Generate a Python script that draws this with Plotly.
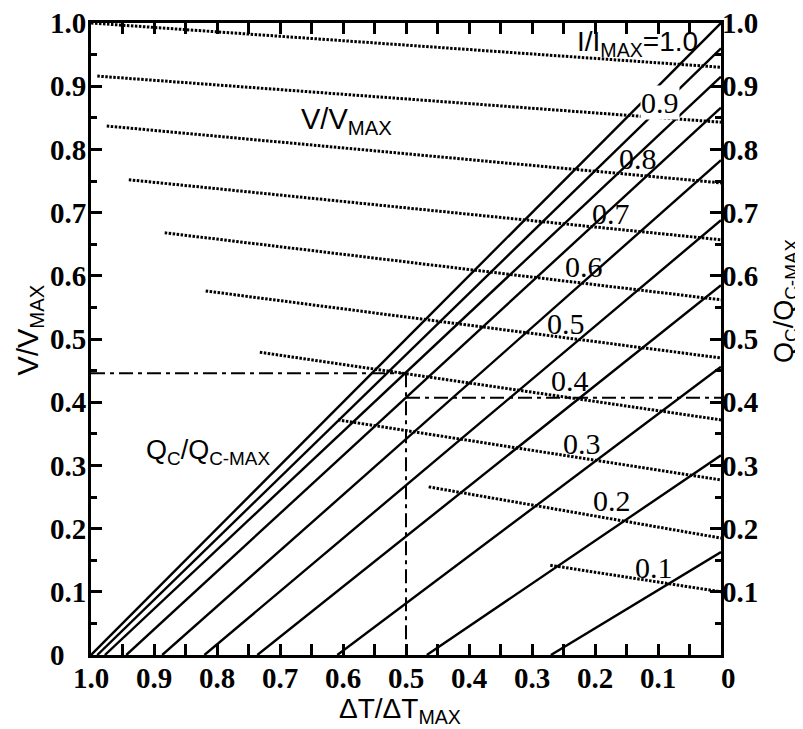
import plotly.graph_objects as go

# ---------------- data ----------------
current = [1.0, 0.9, 0.8, 0.7, 0.6, 0.5, 0.4, 0.3, 0.2, 0.1]           # I/Imax
# Qc/Qc-max straight lines: dT/dTmax where Qc = 0, and Qc/Qc-max at dT = 0
qc_zero_dt = [1.0, 0.99, 0.978, 0.944, 0.887, 0.82, 0.736, 0.609, 0.467, 0.27]
qc_at_dt0 = [1.0, 0.96, 0.915, 0.866, 0.783, 0.688, 0.585, 0.456, 0.316, 0.163]
# V/Vmax dotted lines: start dT, start V, V at dT = 0
v_start_dt = [1.0, 0.99, 0.975, 0.94, 0.883, 0.818, 0.732, 0.608, 0.464, 0.271]
v_start = [1.0, 0.916, 0.837, 0.752, 0.668, 0.576, 0.479, 0.372, 0.266, 0.142]
v_end = [0.93, 0.843, 0.747, 0.657, 0.562, 0.47, 0.372, 0.277, 0.185, 0.10]
# worked example (dash-dot guide lines)
ex_dt = 0.5
ex_v = 0.446
ex_qc = 0.407

NB = "\u00a0"
x_ticks = [1.0, 0.9, 0.8, 0.7, 0.6, 0.5, 0.4, 0.3, 0.2, 0.1, 0.0]
x_ticktext = ["1.0", "0.9", "0.8", "0.7", "0.6", "0.5", "0.4", "0.3", "0.2", "0.1", NB * 2 + "0"]
y_ticks = [0.0, 0.1, 0.2, 0.3, 0.4, 0.5, 0.6, 0.7, 0.8, 0.9, 1.0]
y_ticktext = ["0" + NB * 3, "0.1", "0.2", "0.3", "0.4", "0.5", "0.6", "0.7", "0.8", "0.9", "1.0"]
y2_ticks = [0.1, 0.2, 0.3, 0.4, 0.5, 0.6, 0.7, 0.8, 0.9, 1.0]
y2_ticktext = ["0.1", "0.2", "0.3", "0.4", "0.5", "0.6", "0.7", "0.8", "0.9", "1.0"]

curve_labels = ["0.9", "0.8", "0.7", "0.6", "0.5", "0.4", "0.3", "0.2", "0.1"]
label_pos = [(0.097, 0.875), (0.132, 0.786), (0.175, 0.698), (0.217, 0.615),
             (0.246, 0.525), (0.240, 0.434), (0.221, 0.335), (0.173, 0.245),
             (0.106, 0.139)]

fig = go.Figure()

# Qc/Qc-max solid lines (right axis)
for i, c in enumerate(current):
    fig.add_trace(go.Scatter(
        x=[qc_zero_dt[i], 0.0], y=[0.0, qc_at_dt0[i]],
        mode="lines", line=dict(color="black", width=2.4),
        yaxis="y2", showlegend=False, hoverinfo="skip"))

# V/Vmax dotted lines (left axis)
for i, c in enumerate(current):
    fig.add_trace(go.Scatter(
        x=[v_start_dt[i], 0.0], y=[v_start[i], v_end[i]],
        mode="lines", line=dict(color="black", width=3, dash="2.5px,1.5px"),
        showlegend=False, hoverinfo="skip"))

# guide lines
guide = dict(color="black", width=2, dash="14px,5px,4px,5px")
fig.add_trace(go.Scatter(x=[1.0, ex_dt], y=[ex_v, ex_v], mode="lines",
                         line=guide, showlegend=False, hoverinfo="skip"))
fig.add_trace(go.Scatter(x=[ex_dt, ex_dt], y=[ex_v, 0.0], mode="lines",
                         line=guide, showlegend=False, hoverinfo="skip"))
fig.add_trace(go.Scatter(x=[ex_dt, 0.0], y=[ex_qc, ex_qc], mode="lines",
                         line=guide, yaxis="y2", showlegend=False, hoverinfo="skip"))

tickfont = dict(family="Liberation Serif", size=29, color="black", weight="bold")
sans = "Liberation Sans"
serif = "Liberation Serif"

annotations = []
for txt, (ax, ay) in zip(curve_labels, label_pos):
    a = dict(x=ax, y=ay, xref="x", yref="y", text=txt, showarrow=False,
             xanchor="center", yanchor="middle",
             font=dict(family=serif, size=30, color="black"))
    if txt == "0.9":
        a["bgcolor"] = "white"
        a["borderpad"] = 0
    annotations.append(a)

annotations += [
    dict(x=0.133, y=0.968, xref="x", yref="y", text="I/I<sub>MAX</sub>=1.0",
         xanchor="center", yanchor="middle",
         showarrow=False, font=dict(family=sans, size=28, color="black")),
    dict(x=0.594, y=0.845, xref="x", yref="y", text="V/V<sub>MAX</sub>",
         xanchor="center", yanchor="middle",
         showarrow=False, font=dict(family=sans, size=29, color="black")),
    dict(x=0.814, y=0.322, xref="x", yref="y", text="Q<sub>C</sub>/Q<sub>C-MAX</sub>",
         xanchor="center", yanchor="middle",
         showarrow=False, font=dict(family=sans, size=27, color="black")),
    # axis titles
    dict(x=-0.097, y=0.515, xref="paper", yref="paper", text="V/V<sub>MAX</sub>",
         xanchor="center", yanchor="middle",
         textangle=-90, showarrow=False, font=dict(family=sans, size=29, color="black")),
    dict(x=1.103, y=0.56, xref="paper", yref="paper", text="Q<sub>C</sub>/Q<sub>C-MAX</sub>",
         xanchor="center", yanchor="middle",
         textangle=-90, showarrow=False, font=dict(family=sans, size=27, color="black")),
    dict(x=0.49, y=-0.088, xref="paper", yref="paper", text="ΔT/ΔT<sub>MAX</sub>",
         xanchor="center", yanchor="middle",
         showarrow=False, font=dict(family=sans, size=28, color="black")),
]

fig.update_layout(
    width=795, height=721,
    margin=dict(l=83, r=82, t=15, b=74),
    paper_bgcolor="white", plot_bgcolor="white",
    showlegend=False,
    annotations=annotations,
    xaxis=dict(range=[1.0, 0.0], tickvals=x_ticks, ticktext=x_ticktext,
               ticks="inside", ticklen=11, tickwidth=2.5, tickcolor="black",
               minor=dict(ticks="inside", ticklen=6, tickwidth=2.5, dtick=0.05,
                          tickcolor="black", showgrid=False),
               showline=True, linewidth=3, linecolor="black", mirror="allticks",
               showgrid=False, zeroline=False, tickfont=tickfont, automargin=False,
               ticklabeloverflow="allow", ticklabelstandoff=-5),
    yaxis=dict(range=[0.0, 1.0], tickvals=y_ticks, ticktext=y_ticktext,
               ticks="inside", ticklen=11, tickwidth=2.5, tickcolor="black",
               minor=dict(ticks="inside", ticklen=6, tickwidth=2.5, dtick=0.05,
                          tickcolor="black", showgrid=False),
               showline=True, linewidth=3, linecolor="black", mirror="allticks",
               showgrid=False, zeroline=False, tickfont=tickfont, automargin=False,
               ticklabeloverflow="allow", ticklabelstandoff=-4),
    yaxis2=dict(range=[0.0, 1.0], overlaying="y", side="right",
                tickvals=y2_ticks, ticktext=y2_ticktext, ticks="",
                showline=False, showgrid=False, zeroline=False, tickfont=tickfont,
                automargin=False, ticklabeloverflow="allow"),
)

fig.write_html("out.html")
